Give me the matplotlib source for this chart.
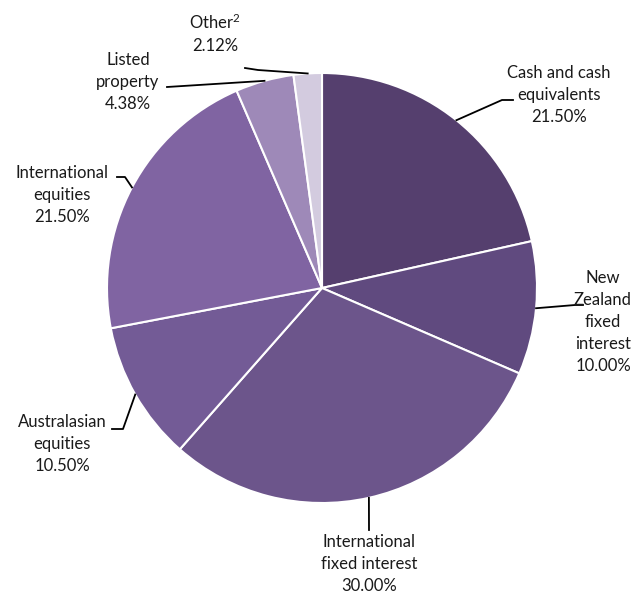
import numpy as np
import matplotlib
matplotlib.use('Agg')
from matplotlib import pyplot

labels = ['Cash and cash\nequivalents', 'New\nZealand\nfixed\ninterest',
          'International\nfixed interest', 'Australasian\nequities',
          'International\nequities', 'Listed\nproperty', 'Other$^{2}$']
values = [21.50, 10.00, 30.00, 10.50, 21.50, 4.38, 2.12]
colors = ['#553f6e', '#604a7f', '#6c558b', '#735b96', '#8064a2',
          '#9e89b8', '#d3cbdf']

pyplot.rcParams['font.family'] = ['Lato', 'DejaVu Sans']
pyplot.rcParams['mathtext.fontset'] = 'custom'
pyplot.rcParams['mathtext.rm'] = 'Lato'
pyplot.rcParams['mathtext.default'] = 'rm'

W, H = 636, 597
cx, cy, r = 322, 288, 215

fig = pyplot.figure(figsize=(W / 100, H / 100), dpi=100)
ax = fig.add_axes([(cx - r) / W, (H - cy - r) / H, 2 * r / W, 2 * r / H])
ax.axis('off')

ax.pie(values, colors=colors, startangle=90, counterclock=False, radius=1.0,
       wedgeprops=dict(edgecolor='white', linewidth=1.5))
ax.set_xlim(-1, 1)
ax.set_ylim(-1, 1)


def px(x, y):
  # pixel position -> data coordinates
  return (x - cx) / r, (cy - y) / r


# leader line bends (pixels) and text centres (pixels)
leaders = [
  [(502, 100), (513, 100)],
  [(575, 305), (583, 305)],
  [(369, 530)],
  [(123, 429), (112, 429)],
  [(125, 177), (117, 177)],
  [(167, 87)],
  [(258, 70), (245, 68)],
]
text_pos = [(559, 95), (603, 322), (369, 564), (62, 444), (62, 195),
            (128, 82), (215, 33)]

total = sum(values)
cum = 0.0
for i, v in enumerate(values):
  mid = np.deg2rad(90 - (cum + v / 2) / total * 360)
  cum += v
  pts = [(np.cos(mid), np.sin(mid))] + [px(*p) for p in leaders[i]]
  xs, ys = zip(*pts)
  ax.plot(xs, ys, color='black', linewidth=1.3, clip_on=False)
  pct = '{:.2f}%'.format(v)
  tx, ty = px(*text_pos[i])
  ax.text(tx, ty, labels[i] + '\n' + pct, ha='center', va='center',
          fontsize=12, linespacing=1.45, color='#1a1a1a')

pyplot.savefig('out.png', dpi=100)
